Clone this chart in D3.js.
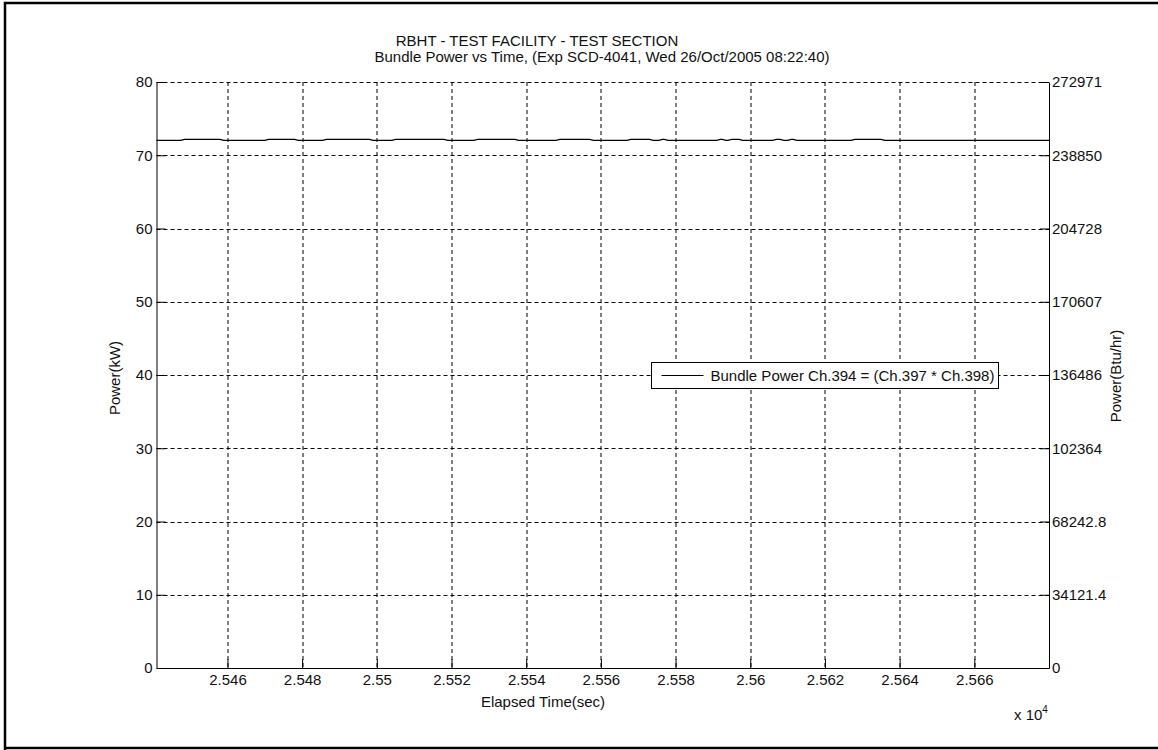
<!DOCTYPE html>
<html>
<head>
<meta charset="utf-8">
<script src="https://cdn.jsdelivr.net/npm/d3@7"></script>
<style>
  body { margin: 0; background: #fff; }
  text { font-family: "Liberation Sans", Arial, sans-serif; font-size: 15px; fill: #111; }
</style>
</head>
<body>
<div id="chart"></div>
<script>
// elapsed time (sec) and bundle power (kW)
const elapsed = [25441, 25447.5, 25448.5, 25458, 25459, 25470, 25471, 25478, 25479, 25485.5,
  25486.5, 25498, 25499, 25504, 25505, 25518, 25519, 25526, 25527, 25537, 25538, 25548, 25549,
  25557, 25558, 25567, 25568, 25573, 25574, 25575.5, 25576.5, 25577, 25578, 25591, 25592,
  25592.5, 25593.5, 25594, 25595, 25597, 25598, 25606, 25607, 25608, 25609, 25610, 25611,
  25611.5, 25612.5, 25627, 25628, 25635, 25636, 25680];
const bundlePower = [72.03, 72.03, 72.17, 72.17, 72.03, 72.03, 72.17, 72.17, 72.03, 72.03,
  72.17, 72.17, 72.03, 72.03, 72.17, 72.17, 72.03, 72.03, 72.17, 72.17, 72.03, 72.03, 72.17,
  72.17, 72.03, 72.03, 72.17, 72.17, 72.03, 72.03, 72.17, 72.17, 72.03, 72.03, 72.17,
  72.17, 72.03, 72.03, 72.17, 72.17, 72.03, 72.03, 72.17, 72.17, 72.03, 72.03, 72.17,
  72.17, 72.03, 72.03, 72.17, 72.17, 72.03, 72.03];

const xTicks = [25460, 25480, 25500, 25520, 25540, 25560, 25580, 25600, 25620, 25640, 25660];
const xTickLabels = ['2.546', '2.548', '2.55', '2.552', '2.554', '2.556', '2.558', '2.56', '2.562', '2.564', '2.566'];
const yTicks = [0, 10, 20, 30, 40, 50, 60, 70, 80];
const rightTickLabels = ['0', '34121.4', '68242.8', '102364', '136486', '170607', '204728', '238850', '272971'];

const titleLines = ['RBHT - TEST FACILITY - TEST SECTION',
  'Bundle Power vs Time, (Exp SCD-4041, Wed 26/Oct/2005 08:22:40)'];
const legendLabel = 'Bundle Power Ch.394 = (Ch.397 * Ch.398)';

const W = 1158, H = 750;
const margin = {top: 82, left: 156.5, right: W - 1049, bottom: H - 668};
const iw = W - margin.left - margin.right;
const ih = H - margin.top - margin.bottom;

const svg = d3.select('#chart').append('svg')
  .attr('width', W).attr('height', H);

svg.append('rect').attr('width', W).attr('height', H).attr('fill', '#fff');

// outer frame
svg.append('path')
  .attr('d', `M5,${H + 5} V3 H${W + 5}`)
  .attr('fill', 'none').attr('stroke', '#000').attr('stroke-width', 2.5);
svg.append('line')
  .attr('x1', 4).attr('x2', W + 5).attr('y1', 748).attr('y2', 748)
  .attr('stroke', '#000').attr('stroke-width', 2.5);

const plot = svg.append('g').attr('transform', `translate(${margin.left},${margin.top})`);

const x = d3.scaleLinear().domain([25441, 25680]).range([0, iw]);
const y = d3.scaleLinear().domain([0, 80]).range([ih, 0]);

// grid
plot.append('g').selectAll('line').data(xTicks).join('line')
  .attr('x1', d => Math.round(x(d)) + 0.5).attr('x2', d => Math.round(x(d)) + 0.5)
  .attr('y1', 0).attr('y2', ih)
  .attr('stroke', '#000').attr('stroke-dasharray', '4,3');
plot.append('g').selectAll('line').data(yTicks.filter(d => d > 0)).join('line')
  .attr('y1', d => Math.round(y(d)) + 0.5).attr('y2', d => Math.round(y(d)) + 0.5)
  .attr('x1', 0).attr('x2', iw)
  .attr('stroke', '#000').attr('stroke-dasharray', '4,3');

// axes
const tickLen = 9;
const xAxis = d3.axisBottom(x).tickValues(xTicks)
  .tickFormat((d, i) => xTickLabels[i]).tickSizeInner(-tickLen).tickSizeOuter(0).tickPadding(6);
plot.append('g').attr('transform', `translate(0,${ih})`).call(xAxis);

const yAxisL = d3.axisLeft(y).tickValues(yTicks).tickSizeInner(-tickLen).tickSizeOuter(0).tickPadding(4);
plot.append('g').call(yAxisL);

const yAxisR = d3.axisRight(y).tickValues(yTicks)
  .tickFormat((d, i) => rightTickLabels[i]).tickSizeInner(-tickLen).tickSizeOuter(0).tickPadding(3);
plot.append('g').attr('transform', `translate(${iw},0)`).call(yAxisR);

plot.selectAll('.domain').attr('stroke', '#000');
plot.selectAll('.tick line').attr('stroke', '#000');
plot.selectAll('.tick text').style('font-size', '15px').attr('fill', '#111');

// series
const pts = elapsed.map((t, i) => [t, bundlePower[i]]);
plot.append('path').datum(pts)
  .attr('fill', 'none').attr('stroke', '#000').attr('stroke-width', 1.2)
  .attr('d', d3.line().x(d => x(d[0])).y(d => y(d[1])));

// legend
const lg = svg.append('g').attr('transform', 'translate(651.5,362.5)');
lg.append('rect').attr('width', 347).attr('height', 26)
  .attr('fill', '#fff').attr('stroke', '#000');
lg.append('line').attr('x1', 10).attr('x2', 52).attr('y1', 13).attr('y2', 13).attr('stroke', '#000');
lg.append('text').attr('x', 59).attr('y', 18).text(legendLabel);

// titles and labels
svg.append('text').attr('x', 537).attr('y', 46).attr('text-anchor', 'middle').text(titleLines[0]);
svg.append('text').attr('x', 602).attr('y', 62).attr('text-anchor', 'middle').text(titleLines[1]);

svg.append('text').attr('x', 543).attr('y', 707).attr('text-anchor', 'middle').text('Elapsed Time(sec)');
svg.append('text').attr('transform', 'translate(120,378) rotate(-90)').attr('text-anchor', 'middle').text('Power(kW)');
svg.append('text').attr('transform', 'translate(1121,376) rotate(-90)').attr('text-anchor', 'middle').text('Power(Btu/hr)');

const ex = svg.append('text').attr('x', 1014).attr('y', 720);
ex.append('tspan').text('x 10');
ex.append('tspan').attr('dy', -7).style('font-size', '10px').text('4');
</script>
</body>
</html>
